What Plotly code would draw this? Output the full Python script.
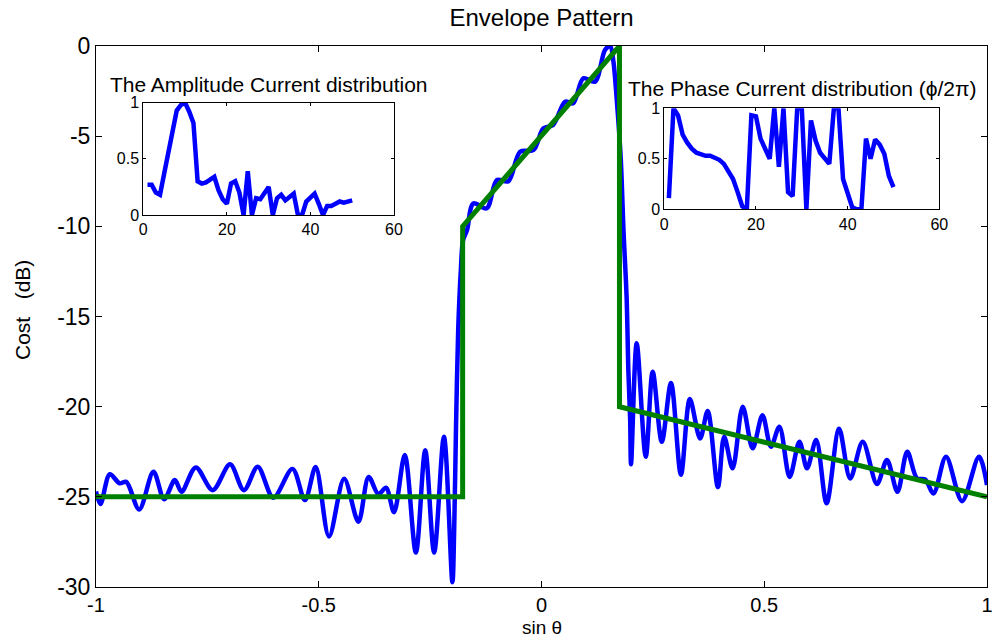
import plotly.graph_objects as go

# ---------------- data ----------------
# Envelope pattern (blue), sin(theta) vs dB
pattern_u = [-1.0, -0.99, -0.969, -0.947, -0.932, -0.903, -0.871, -0.847, -0.823, -0.808,
             -0.776, -0.738, -0.699, -0.668, -0.637, -0.602, -0.559, -0.531, -0.507, -0.477,
             -0.443, -0.411, -0.388, -0.366, -0.349, -0.331, -0.307, -0.282, -0.261, -0.241,
             -0.219, -0.200, -0.196, -0.192, -0.187, -0.181, -0.176, -0.167, -0.153, -0.123,
             -0.100, -0.0745, -0.048, -0.018, 0.004, 0.026, 0.053, 0.071, 0.094, 0.120,
             0.1425, 0.154, 0.161, 0.169, 0.178, 0.184, 0.191, 0.195, 0.199, 0.201,
             0.2137, 0.234, 0.2496, 0.270, 0.2907, 0.313, 0.333, 0.356, 0.373, 0.396,
             0.410, 0.429, 0.4516, 0.474, 0.496, 0.515, 0.534, 0.557, 0.579, 0.596,
             0.6166, 0.640, 0.668, 0.693, 0.721, 0.753, 0.7755, 0.799, 0.821, 0.843,
             0.861, 0.880, 0.908, 0.944, 0.982, 1.0]
pattern_db = [-24.7, -25.4, -23.75, -24.25, -24.17, -25.7, -23.61, -25.13, -24.07, -24.72,
              -23.37, -24.63, -23.2, -24.63, -23.33, -25.05, -23.45, -25.18, -23.35, -27.2,
              -24.0, -26.38, -23.9, -24.85, -24.49, -25.85, -22.68, -28.09, -22.42, -28.09,
              -21.67, -29.73, -26.84, -21.3, -15.75, -12.42, -10.76, -10.2, -8.73, -9.0,
              -7.43, -7.5, -5.86, -5.77, -4.57, -4.38, -3.09, -3.18, -1.79, -1.98,
              -0.22, 0.0, -0.78, -3.0, -6.3, -10.2, -13.9, -18.0, -20.7, -23.2,
              -16.49, -22.78, -18.06, -21.95, -18.69, -23.77, -19.58, -21.76, -20.24, -24.46,
              -21.67, -23.42, -20.0, -22.31, -20.47, -22.22, -21.11, -23.9, -21.95, -23.42,
              -21.85, -25.36, -21.23, -23.98, -21.95, -24.29, -22.96, -24.72, -22.5, -23.98,
              -24.03, -24.81, -22.78, -25.24, -22.78, -24.35]

# Mask (green)
mask_u = [-1.0, -0.177, -0.177, 0.175, 0.175, 1.0]
mask_db = [-25.0, -25.0, -10.0, 0.0, -20.0, -25.0]

# Inset 1: amplitude current distribution
elements = list(range(1, 51))
amplitude = [0.27, 0.27, 0.20, 0.18, 0.37, 0.55, 0.75, 0.93, 0.98, 1.00,
             0.92, 0.82, 0.30, 0.28, 0.29, 0.31, 0.34, 0.22, 0.14, 0.10,
             0.28, 0.30, 0.20, 0.00, 0.39, 0.00, 0.15, 0.14, 0.20, 0.25,
             0.00, 0.15, 0.18, 0.13, 0.16, 0.19, 0.00, 0.00, 0.12, 0.16,
             0.19, 0.10, 0.00, 0.08, 0.08, 0.10, 0.12, 0.11, 0.12, 0.13]

# Inset 2: phase current distribution (phi / 2pi)
phase = [0.11, 1.00, 0.93, 0.74, 0.66, 0.60, 0.56, 0.54, 0.53, 0.53,
         0.51, 0.49, 0.45, 0.38, 0.30, 0.17, 0.03, 0.00, 0.93, 0.92,
         0.70, 0.60, 0.50, 1.00, 0.42, 1.00, 0.17, 0.13, 1.00, 1.00,
         0.00, 0.88, 0.68, 0.56, 0.50, 0.45, 1.00, 1.00, 0.30, 0.15,
         0.02, 0.00, 0.00, 0.70, 0.50, 0.69, 0.64, 0.55, 0.33, 0.22]

main_xticks = [-1, -0.5, 0, 0.5, 1]
main_xticktext = ["-1", "-0.5", "0", "0.5", "1"]
main_yticks = [0, -5, -10, -15, -20, -25, -30]
main_yticktext = ["0", "-5", "-10", "-15", "-20", "-25", "-30"]
inset_xticks = [0, 20, 40, 60]
inset_yticks = [0, 0.5, 1]
inset_yticktext = ["0", "0.5", "1"]

title_text = "Envelope Pattern"
xlabel_text = "sin θ"
ylabel_text = "Cost\u00a0\u00a0\u00a0(dB)"
inset1_title = "The Amplitude Current distribution"
inset2_title = "The Phase Current distribution (ϕ/2π)"

# ---------------- figure ----------------
FONT = "Liberation Sans, Arial, Helvetica, sans-serif"
fig = go.Figure()

fig.add_trace(go.Scatter(x=pattern_u, y=pattern_db, mode="lines",
                         line=dict(color="#0000FF", width=4.5, shape="spline", smoothing=0.9),
                         xaxis="x", yaxis="y", showlegend=False))
fig.add_trace(go.Scatter(x=mask_u, y=mask_db, mode="lines",
                         line=dict(color="#008000", width=5),
                         xaxis="x", yaxis="y", showlegend=False))
fig.add_trace(go.Scatter(x=elements, y=amplitude, mode="lines",
                         line=dict(color="#0000FF", width=4.5),
                         xaxis="x2", yaxis="y2", showlegend=False))
fig.add_trace(go.Scatter(x=elements, y=phase, mode="lines",
                         line=dict(color="#0000FF", width=4.5),
                         xaxis="x3", yaxis="y3", showlegend=False))

W, H = 994, 639
L, R, T, B = 96, 987, 46, 587
pw, ph = R - L, B - T

def px2dom_x(a, b):
    return [(a - L) / pw, (b - L) / pw]

def px2dom_y(top, bottom):
    return [(B - bottom) / ph, (B - top) / ph]

axis_common = dict(showline=True, linecolor="black", linewidth=1, mirror="ticks",
                   ticks="inside", tickcolor="black", showgrid=False, zeroline=False,
                   automargin=False)

fig.update_layout(
    width=W, height=H,
    margin=dict(l=L, r=W - R, t=T, b=H - B, autoexpand=False),
    paper_bgcolor="white", plot_bgcolor="white",
    showlegend=False,
    font=dict(family=FONT, color="black"),
    title=dict(text=title_text, x=(L + R) / 2 / W, xanchor="center",
               y=1 - 18 / H, yanchor="middle", font=dict(size=24, family=FONT)),
    xaxis=dict(range=[-1, 1], tickvals=main_xticks, ticktext=main_xticktext,
               ticklen=6, tickfont=dict(size=20), domain=[0, 1], **axis_common),
    yaxis=dict(range=[-30, 0], tickvals=main_yticks, ticktext=main_yticktext,
               ticklen=6, tickfont=dict(size=23), domain=[0, 1], **axis_common),
    xaxis2=dict(range=[0, 60], tickvals=inset_xticks, anchor="y2",
                domain=px2dom_x(143.3, 394), ticklen=3, tickfont=dict(size=16), **axis_common),
    yaxis2=dict(range=[0, 1], tickvals=inset_yticks, ticktext=inset_yticktext, anchor="x2",
                domain=px2dom_y(102.7, 215), ticklen=3, tickfont=dict(size=16), **axis_common),
    xaxis3=dict(range=[0, 60], tickvals=inset_xticks, anchor="y3",
                domain=px2dom_x(664.3, 939.3), ticklen=3, tickfont=dict(size=16), **axis_common),
    yaxis3=dict(range=[0, 1], tickvals=inset_yticks, ticktext=inset_yticktext, anchor="x3",
                domain=px2dom_y(108.3, 209.3), ticklen=3, tickfont=dict(size=16), **axis_common),
)

ann = [
    dict(text=xlabel_text, x=(541.5 - L) / pw, y=(B - 627) / ph, xref="paper", yref="paper",
         xanchor="center", yanchor="middle", showarrow=False, font=dict(size=19)),
    dict(text=ylabel_text, x=(22 - L) / pw, y=(B - 310) / ph, xref="paper", yref="paper",
         xanchor="center", yanchor="middle", showarrow=False, textangle=-90, font=dict(size=21)),
    dict(text=inset1_title, x=(268.7 - L) / pw, y=(B - 84) / ph, xref="paper", yref="paper",
         xanchor="center", yanchor="middle", showarrow=False, font=dict(size=21)),
    dict(text=inset2_title, x=(802 - L) / pw, y=(B - 88) / ph, xref="paper", yref="paper",
         xanchor="center", yanchor="middle", showarrow=False, font=dict(size=21)),
]
fig.update_layout(annotations=ann)

fig.write_html("out.html")
